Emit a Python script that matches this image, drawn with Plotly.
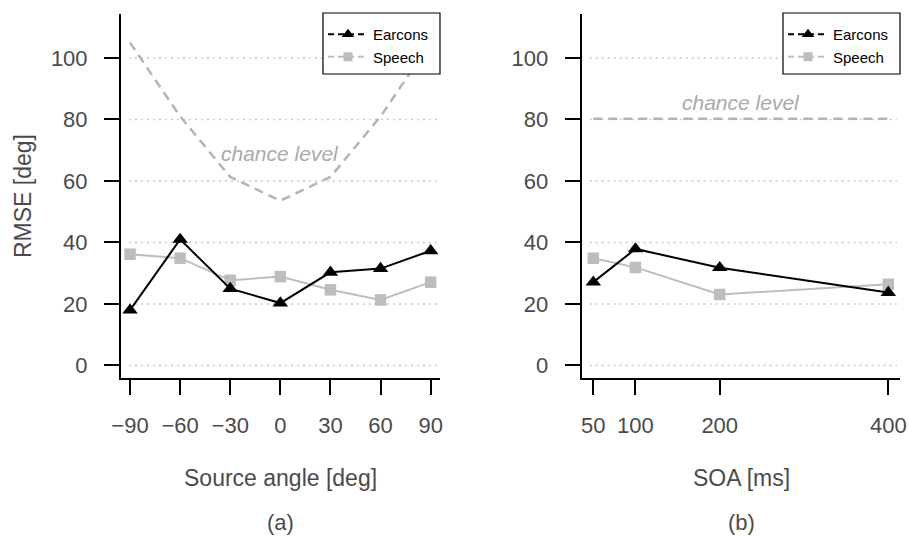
import plotly.graph_objects as go

# ---------------- data ----------------
angles = [-90, -60, -30, 0, 30, 60, 90]
angle_labels = ["\u221290", "\u221260", "\u221230", "0", "30", "60", "90"]
earcons_angle = [18.0, 41.0, 25.0, 20.3, 30.3, 31.5, 37.3]
speech_angle = [36.2, 34.9, 27.7, 28.9, 24.6, 21.3, 27.1]
chance_angle = [105.0, 81.0, 61.3, 53.6, 61.3, 81.0, 105.0]

soa = [50, 100, 200, 400]
soa_labels = ["50", "100", "200", "400"]
earcons_soa = [27.1, 37.9, 31.8, 23.7]
speech_soa = [34.9, 31.9, 23.1, 26.4]
chance_soa = [80.2, 80.2, 80.2, 80.2]

y_ticks = [0, 20, 40, 60, 80, 100]
series_names = ["Earcons", "Speech"]
chance_text = "chance level"

# ---------------- styling ----------------
W, H = 909, 538
FONT = "Liberation Sans, Arial, Helvetica, sans-serif"
TXT = "#4a4a4a"
GRAY = "#bdbdbd"
CH_GRAY = "#b4b4b4"

def px_x(p):
    return p / W

def px_y(p):
    return 1 - p / H

fig = go.Figure()

def add_panel(xs, earc, spch, chance, xaxis, yaxis, legend):
    fig.add_trace(go.Scatter(x=xs, y=chance, mode="lines", xaxis=xaxis, yaxis=yaxis,
                             line=dict(color=CH_GRAY, width=2.5, dash="9px,6px"),
                             showlegend=False, hoverinfo="skip"))
    fig.add_trace(go.Scatter(x=xs, y=spch, mode="lines+markers", xaxis=xaxis, yaxis=yaxis,
                             line=dict(color=GRAY, width=2),
                             marker=dict(symbol="square", size=11.5, color=GRAY),
                             showlegend=False))
    fig.add_trace(go.Scatter(x=xs, y=earc, mode="lines+markers", xaxis=xaxis, yaxis=yaxis,
                             line=dict(color="black", width=2),
                             marker=dict(symbol="triangle-up", size=13.5, color="black"),
                             showlegend=False))
    fig.add_trace(go.Scatter(x=[None], y=[None], mode="lines+markers", xaxis=xaxis, yaxis=yaxis,
                             name=series_names[0], legend=legend,
                             line=dict(color="black", width=2, dash="6px,4px"),
                             marker=dict(symbol="triangle-up", size=11, color="black")))
    fig.add_trace(go.Scatter(x=[None], y=[None], mode="lines+markers", xaxis=xaxis, yaxis=yaxis,
                             name=series_names[1], legend=legend,
                             line=dict(color=GRAY, width=2, dash="6px,4px"),
                             marker=dict(symbol="square", size=9, color=GRAY)))

add_panel(angles, earcons_angle, speech_angle, chance_angle, "x", "y", "legend")
add_panel(soa, earcons_soa, speech_soa, chance_soa, "x2", "y2", "legend2")

ydom = [px_y(378), px_y(14)]
yrange = [-4.07, 114.3]

axis_common = dict(showline=True, linecolor="black", linewidth=2,
                   ticks="outside", ticklen=15, tickwidth=2, tickcolor="black",
                   showgrid=False, zeroline=False, automargin=False,
                   tickfont=dict(family=FONT, size=22, color=TXT))

legend_common = dict(xanchor="left", yanchor="top", bgcolor="rgba(0,0,0,0)",
                     borderwidth=0, font=dict(family=FONT, size=15, color="black"),
                     itemwidth=40, tracegroupgap=0)

fig.update_layout(
    width=W, height=H,
    margin=dict(l=0, r=0, t=0, b=0),
    paper_bgcolor="white", plot_bgcolor="white",
    font=dict(family=FONT, color=TXT),
    xaxis=dict(domain=[px_x(121), px_x(440)], range=[-95.4, 95.6],
               tickmode="array", tickvals=angles, ticktext=angle_labels,
               anchor="y", ticklabelstandoff=12, **axis_common),
    yaxis=dict(domain=ydom, range=yrange, tickmode="array", tickvals=y_ticks,
               anchor="x", ticklabelstandoff=12, **axis_common),
    xaxis2=dict(domain=[px_x(581.7), px_x(900)], range=[36.2, 413.9],
                tickmode="array", tickvals=soa, ticktext=soa_labels,
                anchor="y2", ticklabelstandoff=12, **axis_common),
    yaxis2=dict(domain=ydom, range=yrange, tickmode="array", tickvals=y_ticks,
                anchor="x2", ticklabelstandoff=12, **axis_common),
    legend=dict(x=px_x(323), y=px_y(18), **legend_common),
    legend2=dict(x=px_x(783), y=px_y(18), **legend_common),
)

# dotted horizontal guide lines
for xr, yr in (("x domain", "y"), ("x2 domain", "y2")):
    for v in y_ticks:
        fig.add_shape(type="line", xref=xr, yref=yr, x0=0.025, x1=0.99, y0=v, y1=v,
                      line=dict(color="#c8c8c8", width=1.5, dash="2px,4px"), layer="below")

# legend boxes
for left, right in ((323, 440), (783, 900)):
    fig.add_shape(type="rect", xref="paper", yref="paper",
                  x0=px_x(left), x1=px_x(right), y0=px_y(74), y1=px_y(13),
                  fillcolor="white", line=dict(color="black", width=1.2), layer="above")

annos = [
    dict(x=0, y=69, xref="x", yref="y", text=chance_text, font=dict(size=21, color="#aaaaaa", family=FONT, style="italic")),
    dict(x=225, y=85.5, xref="x2", yref="y2", text=chance_text, font=dict(size=21, color="#aaaaaa", family=FONT, style="italic")),
    dict(x=px_x(280.5), y=px_y(478), xref="paper", yref="paper", text="Source angle [deg]", font=dict(size=23, color=TXT, family=FONT)),
    dict(x=px_x(741), y=px_y(478), xref="paper", yref="paper", text="SOA [ms]", font=dict(size=23, color=TXT, family=FONT)),
    dict(x=px_x(280.5), y=px_y(522), xref="paper", yref="paper", text="(a)", font=dict(size=22, color=TXT, family=FONT)),
    dict(x=px_x(741), y=px_y(522), xref="paper", yref="paper", text="(b)", font=dict(size=22, color=TXT, family=FONT)),
    dict(x=px_x(23), y=px_y(196), xref="paper", yref="paper", text="RMSE [deg]", textangle=-90, font=dict(size=23, color=TXT, family=FONT)),
]
for a in annos:
    fig.add_annotation(showarrow=False, xanchor="center", yanchor="middle", **a)

fig.write_html("out.html")
